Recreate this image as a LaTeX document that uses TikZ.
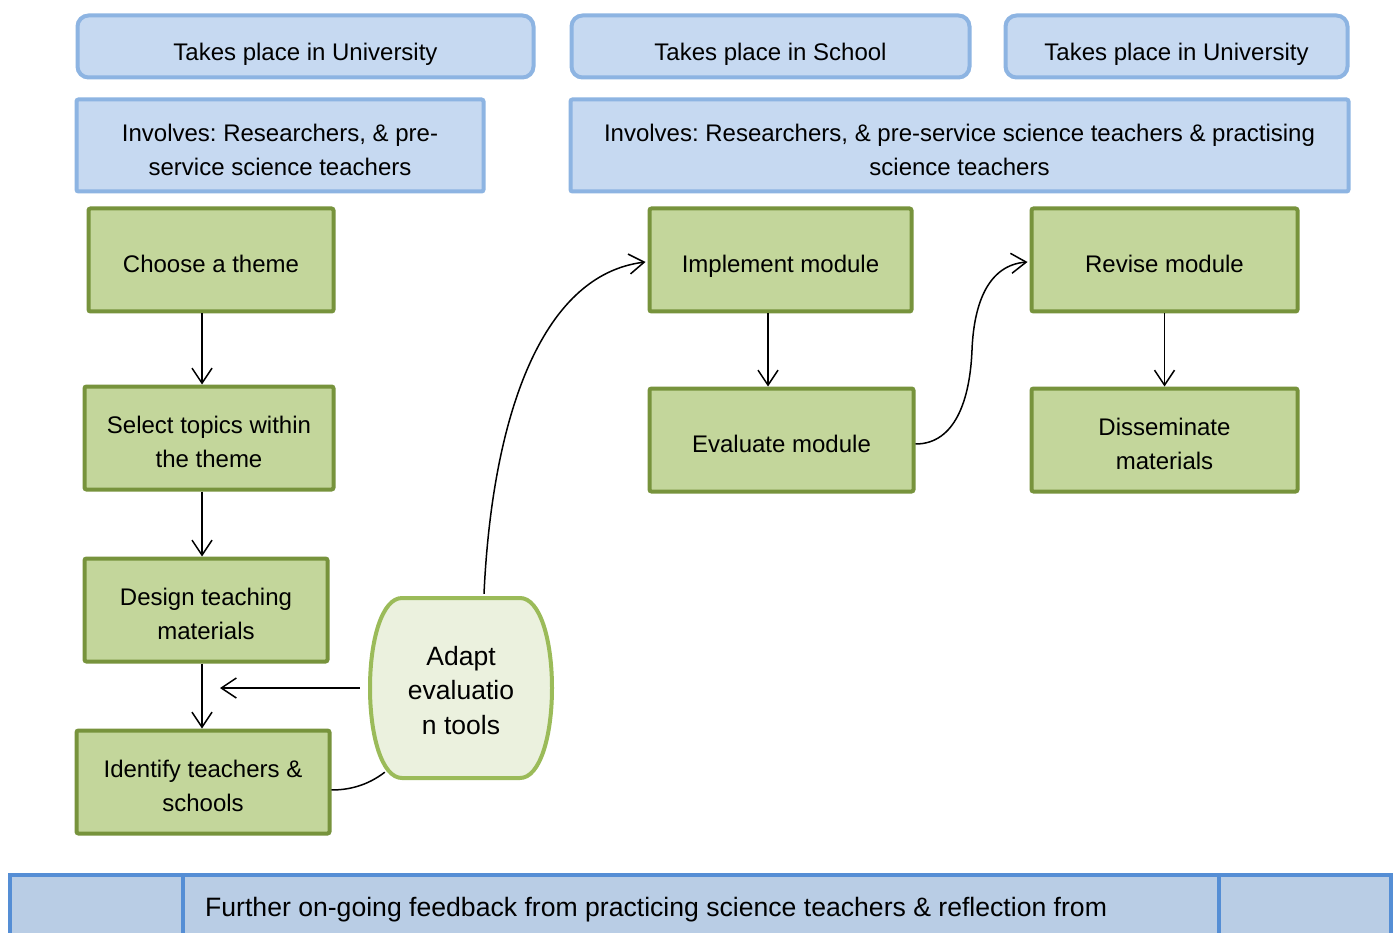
\documentclass[tikz,border=0pt]{standalone}
\usepackage{fontspec}
\setmainfont{Liberation Sans}
\usetikzlibrary{arrows.meta,calc}
\frenchspacing
\definecolor{bfill}{HTML}{C6D9F1}
\definecolor{bline}{HTML}{8DB4E2}
\definecolor{gfill}{HTML}{C3D69B}
\definecolor{gline}{HTML}{77933C}
\definecolor{afill}{HTML}{EBF1DE}
\definecolor{aline}{HTML}{9BBB59}
\definecolor{barfill}{HTML}{B9CDE5}
\definecolor{barline}{HTML}{558ED5}
\newcommand\dn[2][6pt]{\raisebox{-#1}[\height][\depth]{\begin{tabular}{@{}c@{}}#2\end{tabular}}}
\tikzset{
  txt/.style={font=\fontsize{24}{34}\selectfont\frenchspacing, align=center, inner sep=0pt},
  topbox/.style={txt, draw=bline, fill=bfill, line width=4pt, rounded corners=11pt},
  invbox/.style={txt, draw=bline, fill=bfill, line width=4pt, rounded corners=2pt},
  gbox/.style={txt, draw=gline, fill=gfill, line width=4pt, rounded corners=2pt},
  arr/.style={line width=1.5pt, -{Straight Barb[length=15pt,width=20pt,line width=1.5pt]}},
  con/.style={line width=1.5pt},
}
\begin{document}
\begin{tikzpicture}[x=1pt,y=-1pt]
\clip (0,0) rectangle (1395,933);
\fill[white] (0,0) rectangle (1395,933);
% top row
\node[topbox, minimum width=456pt, minimum height=62pt] (b1) at (305.5,46.5) {\dn[7pt]{Takes place in University}};
\node[topbox, minimum width=398pt, minimum height=62pt] (b2) at (770.5,46.5) {\dn[7pt]{Takes place in School}};
\node[topbox, minimum width=342pt, minimum height=62pt] (b3) at (1176.5,46.5) {\dn[7pt]{Takes place in University}};
% involves row
\node[invbox, minimum width=407pt, minimum height=92pt] (i1) at (280,145.5) {\dn{Involves: Researchers, \& pre-\\service science teachers}};
\node[invbox, minimum width=778pt, minimum height=92pt] (i2) at (959.5,145.5) {\dn{Involves: Researchers, \& pre-service science teachers \& practising\\science teachers}};
% green boxes
\node[gbox, minimum width=245pt, minimum height=103pt] (choose) at (211,260) {\dn{Choose a theme}};
\node[gbox, minimum width=249pt, minimum height=103pt] (select) at (209,438) {\dn{Select topics within\\the theme}};
\node[gbox, minimum width=243pt, minimum height=103pt] (design) at (206,610) {\dn{Design teaching\\materials}};
\node[gbox, minimum width=253pt, minimum height=103pt] (identify) at (203,782) {\dn{Identify teachers \&\\schools}};
\node[gbox, minimum width=262pt, minimum height=103pt] (implement) at (780.5,260) {\dn{Implement module}};
\node[gbox, minimum width=264pt, minimum height=103pt] (evaluate) at (781.5,440) {\dn{Evaluate module}};
\node[gbox, minimum width=266pt, minimum height=103pt] (revise) at (1164.5,260) {\dn{Revise module}};
\node[gbox, minimum width=266pt, minimum height=103pt] (dissem) at (1164.5,440) {\dn{Disseminate\\materials}};
% adapt shape
\draw[draw=aline, fill=afill, line width=4pt]
  (402,598) -- (520,598) .. controls (540,598) and (552,640) .. (552,688)
  .. controls (552,736) and (540,778) .. (520,778) -- (402,778)
  .. controls (382,778) and (370,736) .. (370,688)
  .. controls (370,640) and (382,598) .. (402,598) -- cycle;
\node[font=\fontsize{26.5}{34.5}\selectfont, align=center, inner sep=0pt, minimum width=182pt, minimum height=182pt] (adapt) at (461,688) {\dn[5pt]{Adapt\\evaluatio\\n tools}};
% bottom bar
\draw[draw=barline, fill=barfill, line width=4pt] (10,875) rectangle (183,960);
\draw[draw=barline, fill=barfill, line width=4pt] (183,875) rectangle (1219,960);
\draw[draw=barline, fill=barfill, line width=4pt] (1219,875) rectangle (1391,960);
\node[font=\fontsize{26.6}{34}\selectfont, anchor=west, inner sep=0pt] (feedback) at (205,910) {Further on-going feedback from practicing science teachers \& reflection from};
% arrows
\draw[arr] ([xshift=-9pt]choose.south) -- ([xshift=-9pt]choose.south |- select.north);
\draw[arr] ([xshift=-7pt]select.south) -- ([xshift=-7pt]select.south |- design.north);
\draw[arr] ([xshift=-4pt]design.south) -- ([xshift=-4pt]design.south |- identify.north);
\draw[arr] ([xshift=-12.5pt]implement.south) -- ([xshift=-12.5pt]implement.south |- evaluate.north);
\draw[arr] (revise.south) -- (revise.south |- dissem.north);
\draw[arr] ([xshift=-10pt]adapt.west) -- ([xshift=14pt]design.south |- adapt.west);
\draw[con] ([yshift=-8pt]identify.east) .. controls (355,790) and (372,782) .. ([xshift=15pt,yshift=7pt]adapt.south west);
\draw[arr] ([xshift=23pt,yshift=3pt]adapt.north) .. controls (492,420) and (540,275) .. ([xshift=-2pt,yshift=-2pt]implement.west);
\draw[arr] ([yshift=-4pt]evaluate.east) .. controls (955,444) and (970,400) .. (972,350) .. controls (974,300) and (990,265) .. ([xshift=-2pt,yshift=-2pt]revise.west);
\end{tikzpicture}
\end{document}
